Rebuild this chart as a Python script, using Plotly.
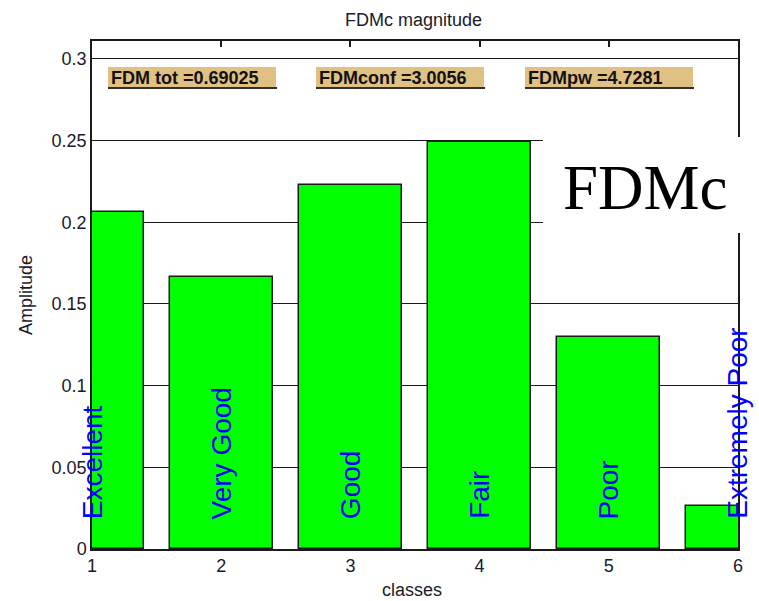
import plotly.graph_objects as go

# ---- data ----
classes = [1, 2, 3, 4, 5, 6]
amplitude = [0.2065, 0.1665, 0.2229, 0.2492, 0.1298, 0.0263]
class_names = ["Excellent", "Very Good", "Good", "Fair", "Poor", "Extremely Poor"]
y_ticks = [0, 0.05, 0.1, 0.15, 0.2, 0.25, 0.3]
y_tick_labels = ["0", "0.05", "0.1", "0.15", "0.2", "0.25", "0.3"]
stat_labels = ["FDM tot =0.69025", "FDMconf =3.0056", "FDMpw =4.7281"]

# ---- layout constants (pixels) ----
W, H = 759, 601
L, R, T, B = 92, 738, 41, 549
pw, ph = R - L, B - T


def px(x):
    return (x - L) / pw


def py(y):
    return (B - y) / ph


TXT = "#1a1a2a"
FONT = "Arial, Liberation Sans, sans-serif"

fig = go.Figure()
fig.add_trace(go.Bar(
    x=classes, y=amplitude, width=0.8,
    marker=dict(color="#00ff00", line=dict(color="#1a1a1a", width=1.5)),
    hoverinfo="skip", showlegend=False,
))
# invisible trace to carry the top (mirrored) tick axis
fig.add_trace(go.Scatter(x=[1, 6], y=[0, 0], xaxis="x2", mode="markers",
                         marker=dict(opacity=0), hoverinfo="skip", showlegend=False))

shapes = []
annotations = []

# stat boxes
box_x = [(108, 276), (316, 484), (525, 693)]
for (x0, x1), lab in zip(box_x, stat_labels):
    shapes.append(dict(type="rect", xref="paper", yref="paper",
                       x0=px(x0), x1=px(x1), y0=py(88), y1=py(67),
                       fillcolor="#e0c083", line=dict(width=0), layer="above"))
    shapes.append(dict(type="line", xref="paper", yref="paper",
                       x0=px(x0), x1=px(x1 + 1), y0=py(88), y1=py(88),
                       line=dict(color="#303030", width=2), layer="above"))
    annotations.append(dict(text="<b>" + lab + "</b>", xref="paper", yref="paper",
                            x=px(x0 + 1), y=py(77.5), xanchor="left", yanchor="middle",
                            showarrow=False, font=dict(family=FONT, size=18, color="#111111")))

# white FDMc box
shapes.append(dict(type="rect", xref="paper", yref="paper",
                   x0=px(543), x1=px(W + 5), y0=py(233), y1=py(137),
                   fillcolor="white", line=dict(width=0), layer="above"))
annotations.append(dict(text="FDMc", xref="paper", yref="paper",
                        x=px(645.5), y=py(188), xanchor="center", yanchor="middle",
                        showarrow=False,
                        font=dict(family="Liberation Serif, Times New Roman, serif", size=63, color="black")))

# class name labels inside bars
for c, name in zip(classes, class_names):
    annotations.append(dict(text=name, x=c, y=0.017, xref="x", yref="y",
                            xanchor="center", yanchor="bottom", textangle=-90,
                            showarrow=False,
                            font=dict(family=FONT, size=28, color="#0000ff")))

# title and axis titles
annotations.append(dict(text="FDMc magnitude", xref="paper", yref="paper",
                        x=px(413), y=py(20), xanchor="center", yanchor="middle",
                        showarrow=False, font=dict(family=FONT, size=18, color=TXT)))
annotations.append(dict(text="classes", xref="paper", yref="paper",
                        x=px(412), y=py(590), xanchor="center", yanchor="middle",
                        showarrow=False, font=dict(family=FONT, size=18, color=TXT)))
annotations.append(dict(text="Amplitude", xref="paper", yref="paper",
                        x=px(26), y=py(295), xanchor="center", yanchor="middle",
                        textangle=-90,
                        showarrow=False, font=dict(family=FONT, size=18, color=TXT)))

fig.update_layout(
    width=W, height=H,
    margin=dict(l=L, r=W - R, t=T, b=H - B, pad=0),
    paper_bgcolor="white", plot_bgcolor="white",
    bargap=0,
    xaxis=dict(range=[1, 6], tickvals=classes, ticktext=[str(c) for c in classes],
               ticks="", showgrid=False, zeroline=False,
               showline=True, linecolor="#1a1a1a", linewidth=1.5, mirror=True,
               tickfont=dict(family=FONT, size=18, color=TXT)),
    xaxis2=dict(range=[1, 6], overlaying="x", side="top", tickvals=classes,
                ticks="inside", ticklen=6, tickwidth=1.5, tickcolor="#1a1a1a",
                showticklabels=False, showgrid=False, zeroline=False, showline=False),
    yaxis=dict(range=[0, 0.311], tickvals=y_ticks, ticktext=y_tick_labels,
               ticks="", showgrid=True, gridcolor="#1a1a1a", gridwidth=1.2,
               zeroline=False, showline=True, linecolor="#1a1a1a", linewidth=1.5, mirror=True,
               tickfont=dict(family=FONT, size=18, color=TXT)),
    shapes=shapes,
    annotations=annotations,
)

fig.write_html("out.html",
               config={"displayModeBar": False},
               post_script="document.body.style.margin='0px';"
                           "document.body.style.overflow='hidden';")
